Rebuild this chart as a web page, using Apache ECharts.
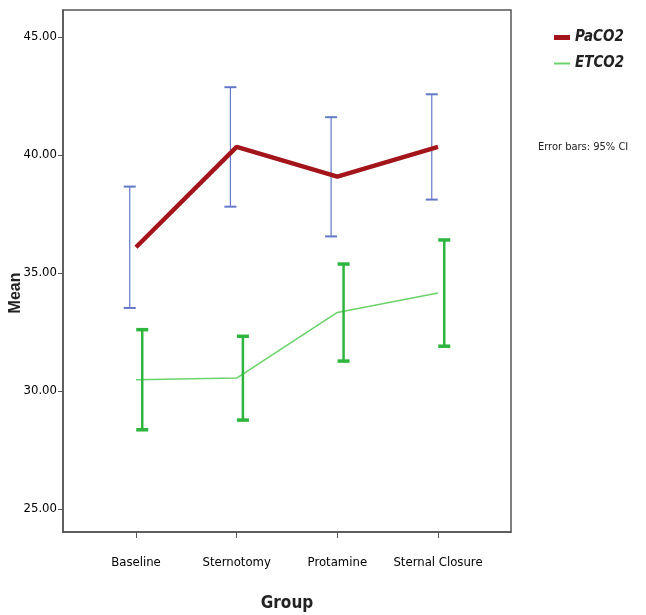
<!DOCTYPE html>
<html>
<head>
<meta charset="utf-8">
<script src="https://cdn.jsdelivr.net/npm/echarts@6/dist/echarts.min.js"></script>
<style>
html,body{margin:0;padding:0;background:#fff;}
#chart{width:646px;height:615px;}
</style>
</head>
<body>
<div id="chart"></div>
<script>
// ---- data ----
const categories = ['Baseline', 'Sternotomy', 'Protamine', 'Sternal Closure'];
const yTicks = [25, 30, 35, 40, 45];
const pacoMean  = [36.09, 40.34, 39.08, 40.34];
const pacoLower = [33.52, 37.81, 36.55, 38.11];
const pacoUpper = [38.66, 42.87, 41.60, 42.57];
const etcoMean  = [30.48, 30.55, 33.33, 34.15];
const etcoLower = [28.36, 28.77, 31.27, 31.90];
const etcoUpper = [32.60, 32.32, 35.38, 36.40];

const FONT = '"Liberation Sans Narrow", "DejaVu Sans Condensed", "Arial Narrow", "Roboto", sans-serif';
const BAR_OFFSET = 0.062;

function lineData(vals) { return vals.map((v, i) => [i, v]); }
function barData(lo, hi, off) { return lo.map((v, i) => [i + off, v, hi[i]]); }

function errorBarRenderer(color, stemW, capW, capHalf) {
  return function (params, api) {
    const x = api.value(0), lo = api.value(1), hi = api.value(2);
    const t = api.coord([x, hi]);
    const b = api.coord([x, lo]);
    return {
      type: 'group',
      children: [
        { type: 'line', shape: { x1: t[0], y1: t[1], x2: b[0], y2: b[1] }, style: { stroke: color, lineWidth: stemW } },
        { type: 'line', shape: { x1: t[0] - capHalf, y1: t[1], x2: t[0] + capHalf, y2: t[1] }, style: { stroke: color, lineWidth: capW } },
        { type: 'line', shape: { x1: b[0] - capHalf, y1: b[1], x2: b[0] + capHalf, y2: b[1] }, style: { stroke: color, lineWidth: capW } }
      ]
    };
  };
}

const chart = echarts.init(document.getElementById('chart'), null, { renderer: 'canvas' });
chart.setOption({
  animation: false,
  backgroundColor: '#ffffff',
  grid: {
    left: 63, right: 135, top: 10, bottom: 83,
    outerBoundsMode: 'none', containLabel: false,
    show: true, borderColor: '#555555', borderWidth: 1.5, backgroundColor: '#ffffff'
  },
  legend: [
    {
      data: [{ name: 'PaCO2', icon: 'rect' }],
      left: 549, top: 25, itemWidth: 16, itemHeight: 5, itemGap: 4,
      textStyle: { fontFamily: FONT, fontSize: 15, fontWeight: 'bold', fontStyle: 'italic', color: '#222' }
    },
    {
      data: [{ name: 'ETCO2', icon: 'rect' }],
      left: 549, top: 51, itemWidth: 16, itemHeight: 2, itemGap: 4,
      textStyle: { fontFamily: FONT, fontSize: 15, fontWeight: 'bold', fontStyle: 'italic', color: '#222' }
    }
  ],
  graphic: [
    {
      type: 'text', left: 538, top: 142,
      style: { text: 'Error bars: 95% CI', font: '11px ' + FONT, fill: '#222' }
    }
  ],
  xAxis: {
    type: 'value', min: -0.725, max: 3.725,
    name: 'Group', nameLocation: 'middle', nameGap: 63,
    nameTextStyle: { fontFamily: FONT, fontSize: 17, fontWeight: 'bold', color: '#222' },
    splitLine: { show: false },
    axisLine: { show: true, onZero: false, lineStyle: { color: '#555', width: 1.5 } },
    axisTick: { show: true, customValues: [0, 1, 2, 3], length: 6, lineStyle: { color: '#555' } },
    axisLabel: {
      customValues: [0, 1, 2, 3], margin: 24,
      formatter: v => categories[Math.round(v)],
      fontFamily: FONT, fontSize: 13, color: '#000'
    }
  },
  yAxis: {
    type: 'value', min: 24.03, max: 46.14,
    name: 'Mean', nameLocation: 'middle', nameGap: 39, nameRotate: 90, nameMoveOverlap: false,
    nameTextStyle: { fontFamily: '"Liberation Sans", Arial, sans-serif', fontSize: 16, fontWeight: 'bold', color: '#222', padding: [0, 44, 0, 0] },
    splitLine: { show: false },
    axisLine: { show: true, onZero: false, lineStyle: { color: '#555', width: 1.5 } },
    axisTick: { show: true, customValues: yTicks, length: 5, lineStyle: { color: '#555' } },
    axisLabel: {
      customValues: yTicks, margin: 6,
      formatter: v => v.toFixed(2),
      fontFamily: FONT, fontSize: 13, color: '#000'
    }
  },
  series: [
    {
      name: 'PaCO2', type: 'line', data: lineData(pacoMean),
      symbol: 'none', z: 3,
      lineStyle: { color: '#A3141B', width: 4.5 }, itemStyle: { color: '#A3141B' }
    },
    {
      name: 'ETCO2', type: 'line', data: lineData(etcoMean),
      symbol: 'none', z: 3,
      lineStyle: { color: '#6AD36A', width: 1.6 }, itemStyle: { color: '#6AD36A' }
    },
    {
      name: 'PaCO2 CI', type: 'custom', data: barData(pacoLower, pacoUpper, -BAR_OFFSET),
      encode: { x: 0, y: [1, 2] }, z: 2,
      renderItem: errorBarRenderer('#6378C8', 1.2, 2, 6)
    },
    {
      name: 'ETCO2 CI', type: 'custom', data: barData(etcoLower, etcoUpper, BAR_OFFSET),
      encode: { x: 0, y: [1, 2] }, z: 4,
      renderItem: errorBarRenderer('#2DB53D', 2.5, 3.5, 6)
    }
  ]
});
</script>
</body>
</html>
